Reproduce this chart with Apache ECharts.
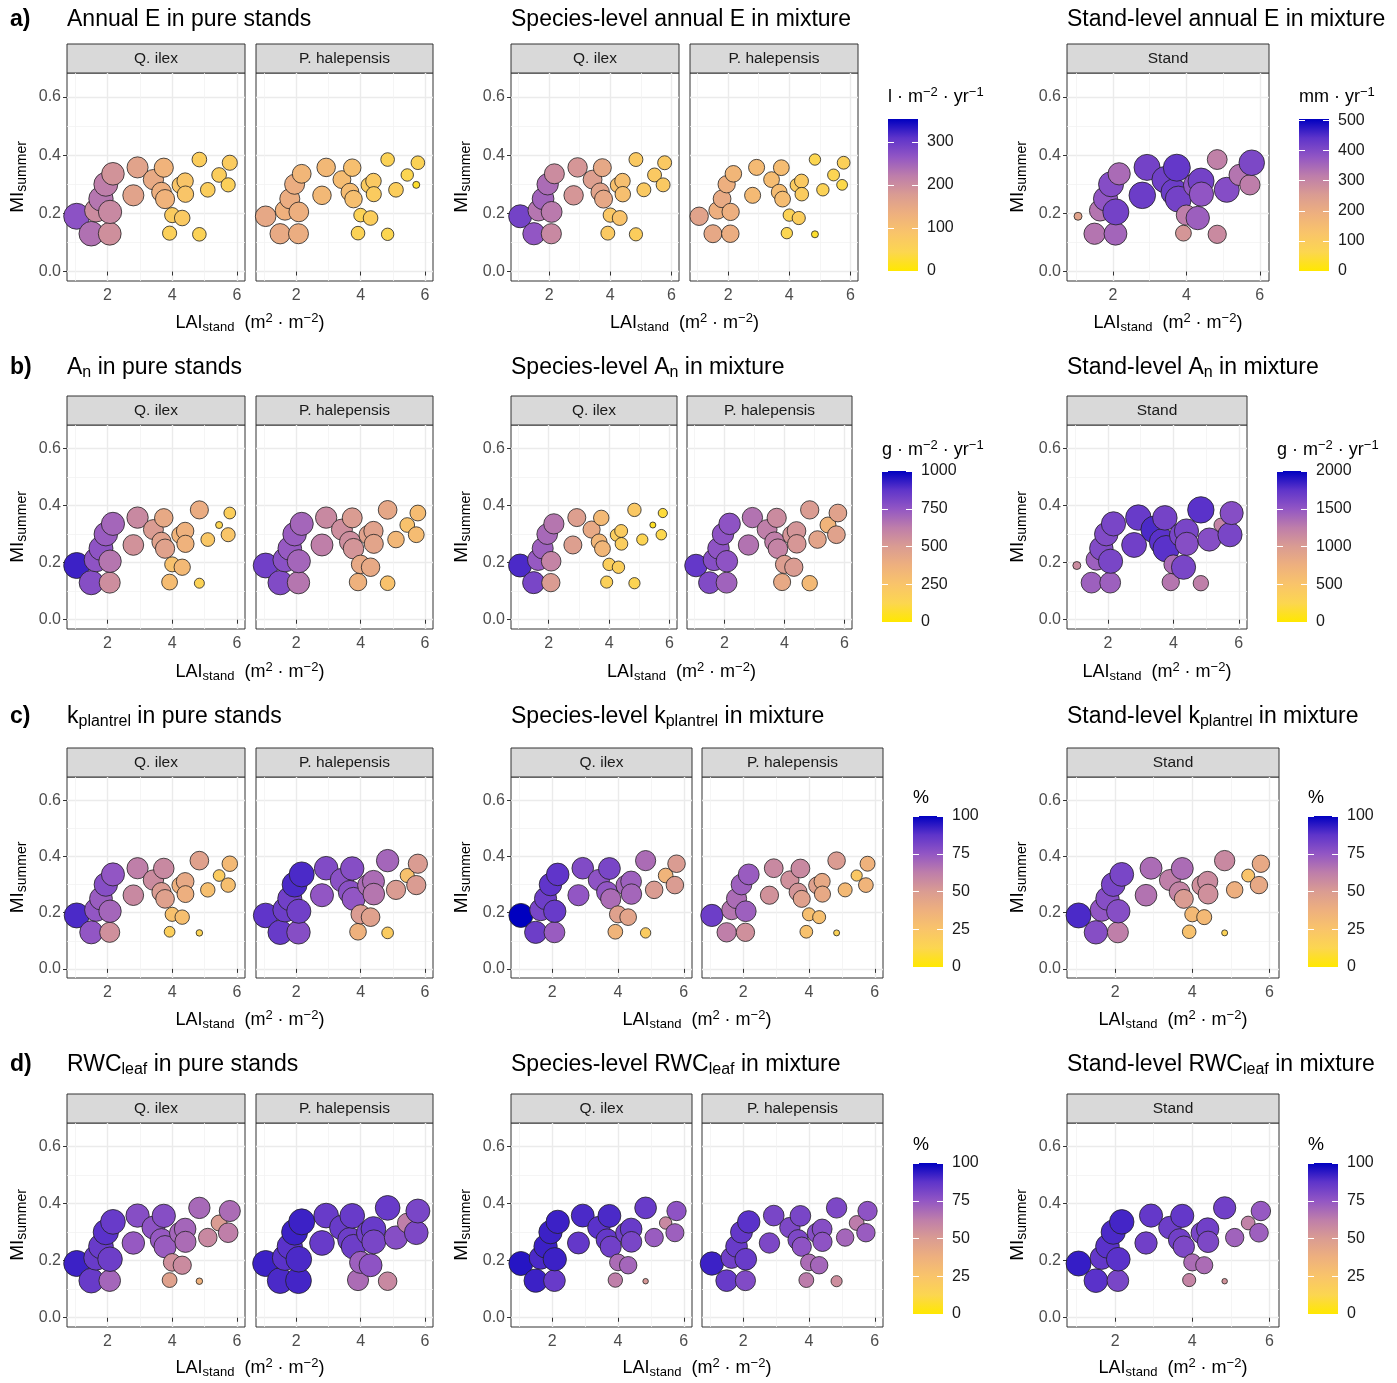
<!DOCTYPE html>
<html>
<head>
<meta charset="utf-8">
<script src="https://cdn.jsdelivr.net/npm/echarts@6/dist/echarts.min.js"></script>
<style>
html, body { margin: 0; padding: 0; background: #fff; }
#main { width: 1397px; height: 1383px; }
</style>
</head>
<body>
<div id="main"></div>
<script>
// stands: LAI and summer moisture index (same positions in every panel)
var lai = [1.05, 1.50, 1.65, 1.80, 1.95, 2.07, 2.08, 2.17, 2.80, 2.93, 3.42, 3.67, 3.74,
           3.78, 3.92, 4.00, 4.25, 4.31, 4.40, 4.41, 4.84, 4.84, 5.10, 5.45, 5.73, 5.78];
var mi = [0.190, 0.130, 0.210, 0.250, 0.300, 0.130, 0.205, 0.336, 0.262, 0.358, 0.316, 0.273, 0.357,
          0.249, 0.132, 0.194, 0.297, 0.184, 0.311, 0.266, 0.385, 0.128, 0.281, 0.332, 0.298, 0.374];

// a) annual E
var ePureQi = [270, 235, 200, 230, 220, 195, 205, 190, 160, 160, 145, 135, 125, 125, 60, 70, 85, 75, 85, 85, 65, 55, 65, 65, 60, 70];
var ePurePh = [150, 145, 130, 140, 140, 140, 135, 120, 115, 115, 105, 105, 100, 100, 55, 55, 70, 65, 75, 70, 55, 45, 65, 45, 25, 55];
var eMixQi = [290, 265, 230, 250, 240, 205, 225, 200, 185, 185, 170, 160, 150, 150, 75, 80, 95, 90, 100, 100, 75, 65, 75, 75, 75, 75];
var eMixPh = [160, 150, 135, 145, 135, 140, 135, 120, 110, 110, 105, 105, 105, 105, 45, 55, 70, 65, 75, 70, 45, 25, 55, 50, 40, 60];
var eStand = [230, 330, 330, 380, 395, 355, 415, 345, 425, 415, 420, 425, 435, 415, 265, 315, 380, 365, 415, 380, 310, 290, 395, 330, 315, 405];

// b) An
var anPureQi = [920, 780, 760, 760, 730, 560, 650, 700, 540, 580, 500, 460, 420, 460, 300, 270, 350, 320, 370, 360, 400, 150, 230, 130, 240, 180];
var anPurePh = [830, 790, 770, 740, 730, 650, 700, 700, 620, 580, 560, 560, 500, 530, 370, 420, 460, 420, 460, 450, 430, 260, 330, 260, 300, 300];
var anMixQi = [900, 810, 740, 720, 690, 500, 600, 650, 480, 480, 420, 340, 320, 340, 170, 180, 190, 180, 200, 190, 220, 140, 140, 60, 120, 90];
var anMixPh = [860, 790, 780, 760, 760, 710, 760, 760, 660, 660, 620, 620, 570, 600, 420, 490, 530, 500, 530, 520, 500, 320, 450, 350, 460, 460];
var anStand = [1140, 1440, 1440, 1580, 1580, 1440, 1620, 1620, 1660, 1700, 1800, 1760, 1640, 1760, 1300, 1360, 1620, 1620, 1620, 1560, 1760, 1240, 1560, 1200, 1620, 1560];

// c) kplantrel
var kPureQi = [90, 75, 75, 73, 78, 55, 70, 75, 58, 62, 57, 50, 58, 47, 18, 27, 37, 28, 42, 38, 47, 14, 28, 20, 28, 32];
var kPurePh = [87, 85, 84, 83, 90, 78, 83, 90, 75, 79, 77, 77, 78, 75, 37, 50, 68, 47, 68, 65, 70, 20, 50, 27, 50, 50];
var kMixQi = [100, 84, 81, 84, 87, 73, 85, 87, 75, 79, 76, 75, 81, 68, 35, 47, 70, 45, 72, 70, 68, 20, 50, 35, 50, 50];
var kMixPh = [84, 62, 65, 68, 72, 55, 72, 73, 54, 58, 55, 53, 58, 47, 27, 28, 47, 28, 42, 42, 50, 15, 32, 22, 35, 36];
var kStand = [90, 78, 75, 78, 81, 62, 78, 81, 66, 68, 62, 60, 68, 50, 27, 32, 55, 32, 57, 55, 58, 15, 38, 25, 42, 42];

// d) RWCleaf
var rPureQi = [92, 85, 85, 85, 88, 70, 84, 85, 74, 78, 76, 74, 78, 73, 47, 55, 70, 57, 70, 68, 69, 37, 58, 50, 62, 68];
var rPurePh = [92, 90, 88, 88, 92, 91, 90, 92, 85, 85, 85, 84, 85, 84, 68, 72, 83, 76, 85, 81, 85, 58, 78, 62, 80, 81];
var rMixQi = [95, 92, 90, 92, 92, 85, 92, 92, 86, 90, 88, 86, 90, 83, 62, 68, 83, 70, 85, 81, 85, 52, 73, 58, 72, 76];
var rMixPh = [92, 85, 83, 85, 86, 79, 85, 88, 80, 81, 80, 80, 81, 76, 63, 68, 78, 70, 78, 76, 80, 56, 70, 63, 73, 76];
var rStand = [93, 88, 86, 88, 90, 81, 88, 91, 83, 86, 84, 83, 86, 80, 60, 68, 81, 68, 83, 80, 83, 54, 71, 61, 72, 74];

// axis ticks
var xTicks = [2, 4, 6];
var xMinor = [1, 3, 5];
var yTicks = [0, 0.2, 0.4, 0.6];
var yMinor = [0.1, 0.3, 0.5];

// colourbar ticks and limits
var eTicks = [0, 100, 200, 300];
var eStandTicks = [0, 100, 200, 300, 400, 500];
var anTicks = [0, 250, 500, 750, 1000];
var anStandTicks = [0, 500, 1000, 1500, 2000];
var pctTicks = [0, 25, 50, 75, 100];
var eMax = 353, eStandMax = 505, anMax = 1000, anStandMax = 2000, pctMax = 100;

var ramp = ['#FFE800', '#FCD650', '#F9C46A', '#EEB07E', '#DA9C92', '#BE7EAA', '#9256C4', '#5E34CA', '#0000C0'];
var FONT = '"Liberation Sans", Arial, sans-serif';

var grids = [], xAxes = [], yAxes = [], series = [], vms = [], els = [];

var richT = {
  t: { fontSize: 23, fontFamily: FONT, color: '#000' },
  s: { fontSize: 16, fontFamily: FONT, color: '#000', padding: [10, 0, 0, 0] }
};
var richAx = {
  t: { fontSize: 18, fontFamily: FONT, color: '#000' },
  s: { fontSize: 13, fontFamily: FONT, color: '#000', padding: [9, 0, 0, 0] },
  p: { fontSize: 13, fontFamily: FONT, color: '#000', padding: [0, 0, 10, 0] }
};
var richY = {
  t: { fontSize: 19, fontFamily: FONT, color: '#000' },
  s: { fontSize: 14, fontFamily: FONT, color: '#000', padding: [9, 0, 0, 0] }
};

function sizeScale(groups, dMin, dMax) {
  var all = [].concat.apply([], groups);
  var lo = Math.min.apply(null, all), hi = Math.max.apply(null, all);
  return function (v) { return dMin + (dMax - dMin) * Math.sqrt((v - lo) / (hi - lo)); };
}

function panel(x, w, top, h, vals, showY, sizeFn, strip) {
  var gi = grids.length;
  grids.push({ left: x, top: top, width: w, height: h, show: true, backgroundColor: '#fff', borderColor: '#333', borderWidth: 1 });
  var xi = xAxes.length;
  xAxes.push({
    gridIndex: gi, type: 'value', min: 0.75, max: 6.25, position: 'bottom',
    axisLine: { show: false },
    axisTick: { show: true, customValues: xTicks, length: 4, lineStyle: { color: '#333' } },
    axisLabel: { customValues: xTicks, color: '#4d4d4d', fontSize: 16, margin: 7, fontFamily: FONT },
    splitLine: { show: true, lineStyle: { color: '#ebebeb', width: 1.4 } }
  });
  xAxes.push({
    gridIndex: gi, type: 'value', min: 0.75, max: 6.25, position: 'top',
    axisLine: { show: false },
    axisTick: { show: false, customValues: xMinor },
    axisLabel: { show: false, customValues: xMinor },
    splitLine: { show: true, lineStyle: { color: '#f2f2f2', width: 0.8 } }
  });
  var yi = yAxes.length;
  yAxes.push({
    gridIndex: gi, type: 'value', min: -0.0325, max: 0.6825, position: 'left',
    axisLine: { show: false },
    axisTick: { show: showY, customValues: yTicks, length: 4, lineStyle: { color: '#333' } },
    axisLabel: { show: showY, customValues: yTicks, color: '#4d4d4d', fontSize: 16, margin: 6, fontFamily: FONT,
      formatter: function (v) { return v.toFixed(1); } },
    splitLine: { show: true, lineStyle: { color: '#ebebeb', width: 1.4 } }
  });
  yAxes.push({
    gridIndex: gi, type: 'value', min: -0.0325, max: 0.6825, position: 'right',
    axisLine: { show: false },
    axisTick: { show: false, customValues: yMinor },
    axisLabel: { show: false, customValues: yMinor },
    splitLine: { show: true, lineStyle: { color: '#f2f2f2', width: 0.8 } }
  });
  series.push({
    type: 'scatter', xAxisIndex: xi, yAxisIndex: yi, z: 3,
    data: lai.map(function (v, i) { return [v, mi[i], vals[i]]; }),
    symbolSize: function (d) { return sizeFn(d[2]); },
    itemStyle: { borderColor: '#222', borderWidth: 0.8, opacity: 1 }
  });
  els.push({ type: 'rect', shape: { x: x, y: top - 29, width: w, height: 29 },
    style: { fill: '#d9d9d9', stroke: '#333', lineWidth: 1 } });
  els.push({ type: 'text', x: x + w / 2, y: top - 14, style: { text: strip, fill: '#1a1a1a',
    fontSize: 15.5, fontFamily: FONT, textAlign: 'center', textVerticalAlign: 'middle' } });
  return series.length - 1;
}

function legend(x, top, h, maxV, ticks, title, titleY) {
  var gi = grids.length;
  grids.push({ left: x, top: top, width: 30, height: h, show: false });
  var xi = xAxes.length;
  xAxes.push({ gridIndex: gi, type: 'category', data: ['c'], show: false });
  var yi = yAxes.length;
  yAxes.push({
    gridIndex: gi, type: 'value', min: 0, max: maxV, position: 'right', z: 5,
    axisLine: { show: false }, splitLine: { show: false },
    axisTick: { show: true, inside: true, length: 6, customValues: ticks, lineStyle: { color: '#fff', width: 1 } },
    axisLabel: { customValues: ticks, color: '#1a1a1a', fontSize: 16, margin: 9, fontFamily: FONT,
      formatter: function (v) { return String(v); } }
  });
  yAxes.push({
    gridIndex: gi, type: 'value', min: 0, max: maxV, position: 'left', z: 5,
    axisLine: { show: false }, splitLine: { show: false },
    axisTick: { show: true, inside: true, length: 6, customValues: ticks, lineStyle: { color: '#fff', width: 1 } },
    axisLabel: { show: false }
  });
  series.push({
    type: 'bar', xAxisIndex: xi, yAxisIndex: yi, data: [maxV], barWidth: '100%', silent: true, z: 2,
    itemStyle: { color: new echarts.graphic.LinearGradient(0, 1, 0, 0,
      ramp.map(function (c, i) { return { offset: i / (ramp.length - 1), color: c }; })) }
  });
  els.push({ type: 'text', x: x, y: titleY, style: { text: title, rich: richAx,
    textAlign: 'left', textVerticalAlign: 'middle' } });
}

function xTitle(cx, y) {
  els.push({ type: 'text', x: cx, y: y, style: {
    text: '{t|LAI}{s|stand}{t|  (m}{p|2}{t| · m}{p|−2}{t|)}', rich: richAx,
    textAlign: 'center', textVerticalAlign: 'middle' } });
}

function yTitle(x, cy) {
  els.push({ type: 'text', x: x, y: cy, rotation: Math.PI / 2, style: {
    text: '{t|MI}{s|summer}', rich: richY, textAlign: 'center', textVerticalAlign: 'middle' } });
}

var rows = [
  { letter: 'a)', top: 73, h: 208, titleY: 20, xTitleY: 323, barTop: 119, barH: 152, legTitleY: 97,
    g2: [[511, 168], [690, 168]], bar2: 888, g3: [1067, 202], bar3: 1299,
    titles: ['{t|Annual E in pure stands}', '{t|Species-level annual E in mixture}', '{t|Stand-level annual E in mixture}'],
    pure: [ePureQi, ePurePh], mix: [eMixQi, eMixPh], stand: eStand,
    max: eMax, ticks: eTicks, standMax: eStandMax, standTicks: eStandTicks,
    unit: '{t|l · m}{p|−2}{t| · yr}{p|−1}', standUnit: '{t|mm · yr}{p|−1}',
    sizes: [[7, 26], [7, 23], [8, 27]] },
  { letter: 'b)', top: 425, h: 204, titleY: 368, xTitleY: 672, barTop: 471, barH: 151, legTitleY: 450,
    g2: [[511, 166], [687, 165]], bar2: 882, g3: [1067, 180], bar3: 1277,
    titles: ['{t|A}{s|n}{t| in pure stands}', '{t|Species-level A}{s|n}{t| in mixture}', '{t|Stand-level A}{s|n}{t| in mixture}'],
    pure: [anPureQi, anPurePh], mix: [anMixQi, anMixPh], stand: anStand,
    max: anMax, ticks: anTicks, standMax: anStandMax, standTicks: anStandTicks,
    unit: '{t|g · m}{p|−2}{t| · yr}{p|−1}', standUnit: '{t|g · m}{p|−2}{t| · yr}{p|−1}',
    sizes: [[7, 26], [6, 23], [8, 27]] },
  { letter: 'c)', top: 777, h: 201, titleY: 717, xTitleY: 1020, barTop: 816, barH: 151, legTitleY: 798,
    g2: [[511, 181], [702, 181]], bar2: 913, g3: [1067, 212], bar3: 1308,
    titles: ['{t|k}{s|plantrel}{t| in pure stands}', '{t|Species-level k}{s|plantrel}{t| in mixture}', '{t|Stand-level k}{s|plantrel}{t| in mixture}'],
    pure: [kPureQi, kPurePh], mix: [kMixQi, kMixPh], stand: kStand,
    max: pctMax, ticks: pctTicks, standMax: pctMax, standTicks: pctTicks,
    unit: '{t|%}', standUnit: '{t|%}',
    sizes: [[6.5, 25], [6, 24], [6, 25]] },
  { letter: 'd)', top: 1123, h: 204, titleY: 1065, xTitleY: 1368, barTop: 1163, barH: 151, legTitleY: 1145,
    g2: [[511, 181], [702, 181]], bar2: 913, g3: [1067, 212], bar3: 1308,
    titles: ['{t|RWC}{s|leaf}{t| in pure stands}', '{t|Species-level RWC}{s|leaf}{t| in mixture}', '{t|Stand-level RWC}{s|leaf}{t| in mixture}'],
    pure: [rPureQi, rPurePh], mix: [rMixQi, rMixPh], stand: rStand,
    max: pctMax, ticks: pctTicks, standMax: pctMax, standTicks: pctTicks,
    unit: '{t|%}', standUnit: '{t|%}',
    sizes: [[6.5, 26], [5.5, 24], [5.5, 25]] }
];

rows.forEach(function (r) {
  var cy = r.top + r.h / 2;
  els.push({ type: 'text', x: 10, y: r.titleY, style: { text: r.letter, fill: '#000',
    fontSize: 23, fontWeight: 'bold', fontFamily: FONT, textVerticalAlign: 'middle' } });
  [67, r.g2[0][0], r.g3[0]].forEach(function (tx, k) {
    els.push({ type: 'text', x: tx, y: r.titleY, style: { text: r.titles[k], rich: richT,
      textAlign: 'left', textVerticalAlign: 'middle' } });
  });

  // pure stands
  var f1 = sizeScale(r.pure, r.sizes[0][0], r.sizes[0][1]);
  var a1 = panel(67, 178, r.top, r.h, r.pure[0], true, f1, 'Q. ilex');
  var a2 = panel(256, 177, r.top, r.h, r.pure[1], false, f1, 'P. halepensis');
  vms.push({ type: 'continuous', show: false, min: 0, max: r.max, dimension: 2, seriesIndex: [a1, a2], inRange: { color: ramp } });
  yTitle(18, cy);
  xTitle((67 + 256 + 177) / 2, r.xTitleY);

  // species level in mixture
  var f2 = sizeScale(r.mix, r.sizes[1][0], r.sizes[1][1]);
  var b1 = panel(r.g2[0][0], r.g2[0][1], r.top, r.h, r.mix[0], true, f2, 'Q. ilex');
  var b2 = panel(r.g2[1][0], r.g2[1][1], r.top, r.h, r.mix[1], false, f2, 'P. halepensis');
  vms.push({ type: 'continuous', show: false, min: 0, max: r.max, dimension: 2, seriesIndex: [b1, b2], inRange: { color: ramp } });
  yTitle(462, cy);
  xTitle((r.g2[0][0] + r.g2[1][0] + r.g2[1][1]) / 2, r.xTitleY);
  legend(r.bar2, r.barTop, r.barH, r.max, r.ticks, r.unit, r.legTitleY);

  // stand level in mixture
  var f3 = sizeScale([r.stand], r.sizes[2][0], r.sizes[2][1]);
  var c1 = panel(r.g3[0], r.g3[1], r.top, r.h, r.stand, true, f3, 'Stand');
  vms.push({ type: 'continuous', show: false, min: 0, max: r.standMax, dimension: 2, seriesIndex: [c1], inRange: { color: ramp } });
  yTitle(1018, cy);
  xTitle(r.g3[0] + r.g3[1] / 2, r.xTitleY);
  legend(r.bar3, r.barTop, r.barH, r.standMax, r.standTicks, r.standUnit, r.legTitleY);
});

var myChart = echarts.init(document.getElementById('main'));
var option = {
  backgroundColor: '#fff',
  animation: false,
  textStyle: { fontFamily: FONT },
  grid: grids,
  xAxis: xAxes,
  yAxis: yAxes,
  visualMap: vms,
  series: series,
  graphic: { elements: els }
};
myChart.setOption(option);
</script>
</body>
</html>
